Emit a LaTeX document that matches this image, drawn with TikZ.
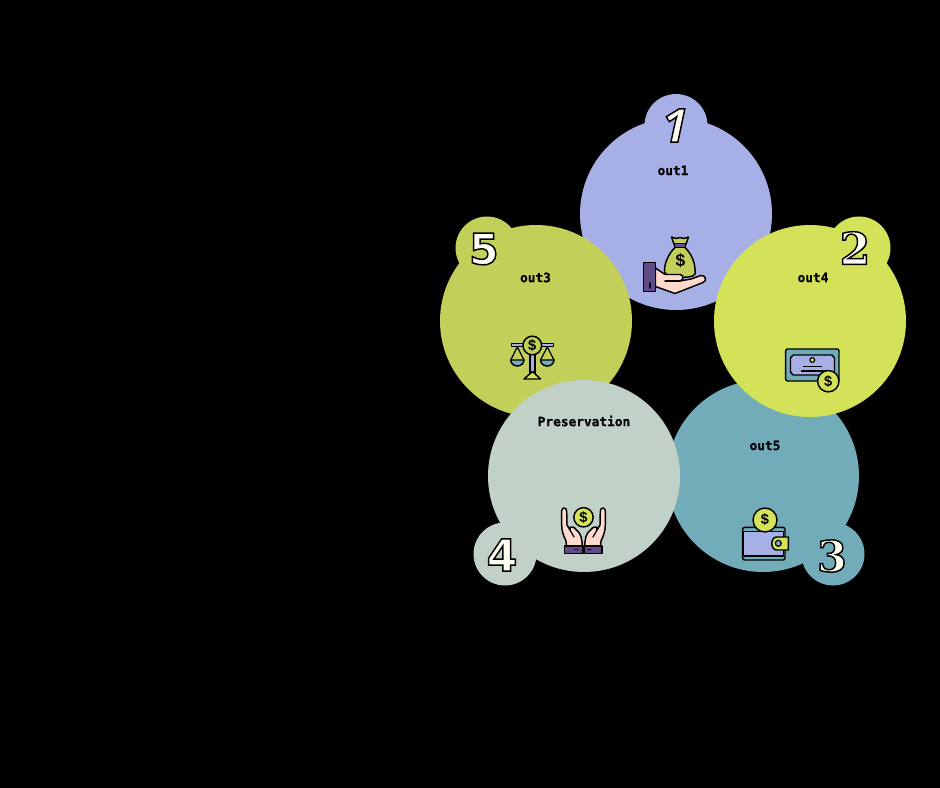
\documentclass[tikz,border=0pt]{standalone}
\usepackage{fontspec}
\setmainfont{DejaVu Sans}
\newfontfamily\labelfont[BoldFeatures={FakeBold=0.7}]{DejaVu Sans Mono}
\newfontfamily\digitfont{DejaVu Serif}
\newfontfamily\onefont{Open Sans}
\newfontfamily\dollarfont{Liberation Sans}
\definecolor{periwinkle}{HTML}{A6AFE6}
\definecolor{limegreen}{HTML}{D4E259}
\definecolor{tealblue}{HTML}{73ACB9}
\definecolor{sage}{HTML}{C1D1C8}
\definecolor{olive}{HTML}{C2CF59}
\definecolor{skin}{HTML}{FFD9CC}
\definecolor{cuff}{HTML}{5F4B85}
\definecolor{digitwhite}{HTML}{FFFEF2}
\newcommand{\inkdigit}[2]{{#1\textcolor{digitwhite}{\special{pdf:code 2 Tr 1.1 w 0 0 0 RG}#2\special{pdf:code 0 Tr}}}}
\tikzset{
  petal/.style={circle, fill=#1, minimum size=144pt, inner sep=0pt},
  badge/.style={circle, fill=#1, minimum size=47.25pt, inner sep=0pt},
  outlabel/.style={font=\labelfont\bfseries\fontsize{9.6}{11}\selectfont, text=black, inner sep=0pt},
  numeral/.style={inner sep=0pt},
  coin/.style={circle, draw=black, fill=#1, line width=1.1pt, inner sep=0pt,
    font=\dollarfont\bfseries\fontsize{11}{12}\selectfont, text=black},
  iconline/.style={draw=black, line width=1.1pt, line join=round, line cap=round}
}
\begin{document}
\begin{tikzpicture}[x=0.75pt, y=-0.75pt]
  \fill[black] (0,0) rectangle (940,788);
  \useasboundingbox (0,0) rectangle (940,788);

  \node (p1) [petal=periwinkle] at (676,214) {};
  \node (b1) [badge=periwinkle] at (676,125.5) {};
  \node (p3) [petal=tealblue] at (763,476) {};
  \node (b3) [badge=tealblue] at (833,554) {};
  \node (p5) [petal=olive] at (536,321) {};
  \node (b5) [badge=olive] at (487,248) {};
  \node (p4) [petal=sage] at (584,476) {};
  \node (b4) [badge=sage] at (505,554) {};
  \node (p2) [petal=limegreen] at (810,321) {};
  \node (b2) [badge=limegreen] at (859,248) {};

  \node (n1) [numeral] at (675,125.5) {\inkdigit{\onefont\bfseries\itshape\fontsize{35}{37}\selectfont}{1}};
  \node (n2) [numeral] at (855,248) {\inkdigit{\digitfont\bfseries\fontsize{33}{35}\selectfont}{2}};
  \node (n3) [numeral] at (832,556) {\inkdigit{\digitfont\bfseries\fontsize{32}{34}\selectfont}{3}};
  \node (n4) [numeral] at (502,555) {\inkdigit{\bfseries\fontsize{33}{35}\selectfont}{4}};
  \node (n5) [numeral] at (484,249) {\inkdigit{\bfseries\fontsize{32}{34}\selectfont}{5}};

  \node (l1) [outlabel] at (673,170.5) {out1};
  \node (l3) [outlabel] at (535.5,277.5) {out3};
  \node (l4) [outlabel] at (813,277.5) {out4};
  \node (l5) [outlabel] at (765,445.5) {out5};
  \node (l2) [outlabel] at (584,421) {Preservation};

  % bag on hand
  \filldraw[iconline, fill=olive] (675.5,247) .. controls (669,253) and (664,263) .. (664.5,272)
    .. controls (665,277) and (692,280) .. (695,274) .. controls (696,263) and (691,253) .. (684.5,247) -- cycle;
  \filldraw[iconline, fill=olive] (675,247) -- (671.5,237) -- (676,238.5) -- (680,237.5) -- (684,238.5) -- (688.5,237) -- (685,247) -- cycle;
  \filldraw[iconline, fill=cuff] (674.5,243.5) rectangle (685.5,247.5);
  \node (d1) [font=\dollarfont\bfseries\fontsize{13}{14}\selectfont, inner sep=0pt] at (680.5,261) {\$};
  \filldraw[iconline, fill=skin] (655.5,268) -- (665,274.5) -- (680,274.5)
    .. controls (684,275) and (684,280) .. (680,281) -- (691,279) -- (701,275.5)
    .. controls (706,275) and (707,281) .. (703,282.5) -- (675,293.5) -- (655.5,286.5) -- cycle;
  \draw[iconline] (665,281) -- (680,281);
  \filldraw[iconline, fill=cuff] (643.5,262.5) rectangle (655.5,291.5);
  \draw[iconline] (650,283) -- (650,288);

  % bill
  \filldraw[iconline, fill=tealblue, rounded corners=1.5pt] (785.7,349) rectangle (839,381);
  \filldraw[iconline, fill=periwinkle] (793,355) -- (832,355) -- (834.5,358) -- (834.5,372) -- (832,375)
    -- (793,375) -- (790.5,372) -- (790.5,358) -- cycle;
  \filldraw[iconline, fill=limegreen, line width=0.9pt] (812.3,360) circle (2.4);
  \draw[iconline, line width=0.9pt] (803.5,366.5) -- (821.5,366.5);
  \draw[iconline, line width=0.9pt] (801.5,371) -- (830,371);
  \node (c2) [coin=limegreen, minimum size=16pt] at (828.3,381.2) {\$};

  % scales
  \filldraw[iconline, fill=periwinkle] (530,353) rectangle (535,373);
  \filldraw[iconline, fill=limegreen] (532.5,371.5) -- (540.5,379) -- (524,379) -- cycle;
  \filldraw[iconline, fill=periwinkle] (511.7,343.5) rectangle (553.3,346.7);
  \draw[iconline, line width=0.9pt] (510.7,360) -- (517.3,347) -- (524,360);
  \draw[iconline, line width=0.9pt] (540.5,360) -- (547.3,347) -- (554,360);
  \filldraw[iconline, fill=tealblue] (510.7,360) -- (524,360) arc[start angle=0, end angle=180, x radius=6.65, y radius=6];
  \filldraw[iconline, fill=tealblue] (540.5,360) -- (554,360) arc[start angle=0, end angle=180, x radius=6.75, y radius=6];
  \node (c5) [coin=olive, minimum size=14pt] at (532.3,345.5) {\$};

  % open hands
  \node (c4) [coin=limegreen, minimum size=14.5pt] at (583.5,517.3) {\$};
  \filldraw[iconline, fill=skin] (561.7,511) .. controls (561.7,507) and (566.5,507) .. (566.7,511)
    -- (567,525) -- (570,530) -- (570.5,527) .. controls (573,526) and (575,528) .. (577,530.5)
    .. controls (581,534) and (582,538) .. (582.2,546) -- (566.5,546) -- (566,541)
    .. controls (563,535) and (561.7,530) .. (561.7,525) -- cycle;
  \filldraw[iconline, fill=skin] (605.3,511) .. controls (605.3,507) and (600.5,507) .. (600.3,511)
    -- (600,525) -- (597,530) -- (596.5,527) .. controls (594,526) and (592,528) .. (590,530.5)
    .. controls (586,534) and (585,538) .. (584.8,546) -- (600.5,546) -- (601,541)
    .. controls (604,535) and (605.3,530) .. (605.3,525) -- cycle;
  \draw[iconline, line width=0.9pt] (570,530) -- (574,537);
  \draw[iconline, line width=0.9pt] (597,530) -- (593,537);
  \filldraw[iconline, fill=cuff] (564.5,546) rectangle (583,553.3);
  \filldraw[iconline, fill=cuff] (584,546) rectangle (602,553.3);
  \draw[iconline] (575,549.5) -- (578,549.5);
  \draw[iconline] (588,549.5) -- (591,549.5);

  % wallet
  \filldraw[iconline, fill=tealblue, rounded corners=1.5pt] (742.7,527.3) rectangle (785,560);
  \filldraw[iconline, fill=periwinkle] (743.5,531.7) -- (783.5,531.7) -- (783.5,556) -- (743.5,556) -- cycle;
  \node (c3) [coin=limegreen, minimum size=18pt] at (765,520) {\$};
  \filldraw[iconline, fill=limegreen] (777,537) -- (788.3,537) -- (788.3,550) -- (777,550)
    .. controls (770,550) and (770,537) .. (777,537) -- cycle;
  \filldraw[iconline, fill=tealblue, line width=0.9pt] (778.3,543.3) circle (3);
\end{tikzpicture}
\end{document}
